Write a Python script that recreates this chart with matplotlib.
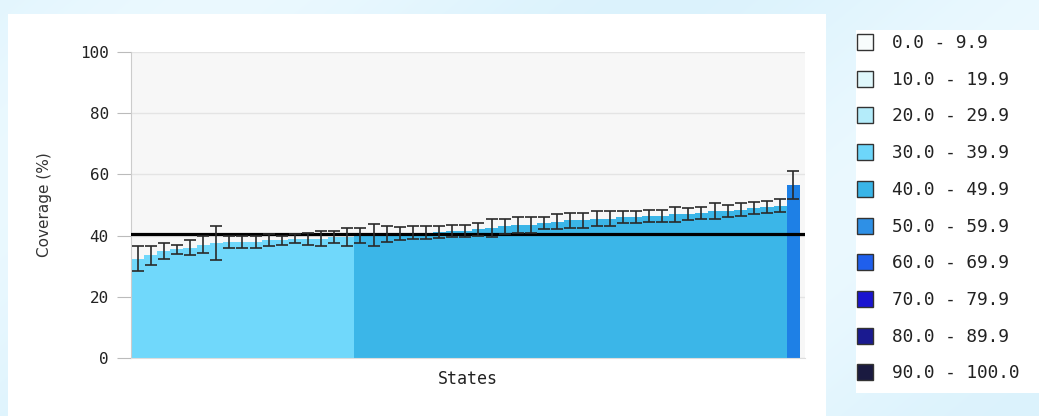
import numpy as np
import matplotlib
matplotlib.use('Agg')
import matplotlib.pyplot as plt
from matplotlib.patches import Rectangle

# coverage by state (%), sorted
coverage = [32.5, 33.5, 35, 35.5, 36, 37, 37.5, 38, 38, 38, 38.5, 38.5, 39, 39, 39, 39.5, 39.5,
            40, 40.2, 40.5, 40.7, 41, 41, 41.2, 41.5, 41.5, 42, 42.5, 43, 43.5, 43.5, 44, 44.5,
            45, 45, 45.5, 45.5, 46, 46, 46.5, 46.5, 47, 47, 47.5, 48, 48, 48.5, 49, 49.3, 49.8,
            56.5]
half_ci = [4, 3.2, 2.5, 1.5, 2.5, 2.8, 5.5, 2, 2, 2, 2, 1.5, 1.5, 2, 2.5, 2, 3,
           2.5, 3.5, 2.5, 2, 2, 2, 2, 2, 2, 2, 3, 2.5, 2.5, 2.5, 2, 2.5,
           2.5, 2.5, 2.5, 2.5, 2, 2, 2, 2, 2.5, 2, 2, 2.5, 2, 2, 2, 2, 2,
           4.5]
national = 40.5

legend_labels = ['0.0 - 9.9', '10.0 - 19.9', '20.0 - 29.9', '30.0 - 39.9', '40.0 - 49.9',
                 '50.0 - 59.9', '60.0 - 69.9', '70.0 - 79.9', '80.0 - 89.9', '90.0 - 100.0']
legend_colors = ['#f8fcfc', '#e0f8fc', '#b4ecfa', '#6dd6fa', '#39b5e8',
                 '#2e90e6', '#1f5fec', '#1a14d0', '#1a1a90', '#1a1a40']
fill_colors = ['#f8fcfc', '#e0f8fc', '#b4ecfa', '#70d8fb', '#3bb6e8',
               '#1e80e6', '#1f5fec', '#1a14d0', '#1a1a90', '#1a1a40']

def bin_color(v):
    return fill_colors[min(int(v // 10), 9)]

W, H = 1039, 416
fig = plt.figure(figsize=(W / 100, H / 100), dpi=100)

# light blue page background with soft diagonal bands
bg = fig.add_axes([0, 0, 1, 1], zorder=-10)
yy, xx = np.mgrid[0:H, 0:W]
band = 0.5 + 0.5 * np.sin((xx + yy * 1.2) / 140.0)
c1 = np.array([0.86, 0.95, 0.99])
c2 = np.array([0.92, 0.975, 1.0])
img = c1[None, None, :] * (1 - band[..., None]) + c2[None, None, :] * band[..., None]
bg.imshow(img, aspect='auto', extent=[0, W, H, 0])
bg.set_xlim(0, W)
bg.set_ylim(H, 0)
bg.axis('off')
bg.add_patch(Rectangle((8, 14), 818, 402, facecolor='white', edgecolor='none'))
bg.add_patch(Rectangle((856, 30), 183, 363, facecolor='white', edgecolor='none'))

mono = 'DejaVu Sans Mono'

# legend
for i, (lab, col) in enumerate(zip(legend_labels, legend_colors)):
    y = 42 + i * 36.7
    bg.add_patch(Rectangle((857, y - 8), 16, 16, facecolor=col, edgecolor='#333333', lw=1.0))
    bg.text(892, y + 1, lab, fontsize=12.8, family=mono, color='#222222', va='center', ha='left')

# main chart
ax = fig.add_axes([131 / W, 1 - 358 / H, (805 - 131) / W, (358 - 52) / H])
ax.set_facecolor('#f7f7f7')
x = np.arange(len(coverage))
cols = [bin_color(v) for v in coverage]
ax.bar(x, coverage, width=1.0, color=cols, edgecolor='none', zorder=2)
ax.errorbar(x, coverage, yerr=half_ci, fmt='none', ecolor='#2a2a2a', elinewidth=1.2,
            capsize=4.5, capthick=1.2, zorder=4)
ax.axhline(national, color='black', lw=2.3, zorder=3)

ax.set_xlim(-0.5, len(coverage) - 0.1)
ax.set_ylim(0, 100)
ax.set_yticks([0, 20, 40, 60, 80, 100])
ax.set_xticks([])
ax.grid(axis='y', color='#e4e4e4', lw=1, zorder=0)
for s in ['top', 'right']:
    ax.spines[s].set_visible(False)
ax.spines['left'].set_color('#cccccc')
ax.spines['bottom'].set_color('#dddddd')
ax.tick_params(axis='y', colors='#bbbbbb', length=10, pad=6, labelcolor='#222222', labelsize=11.5)
for t in ax.get_yticklabels():
    t.set_family(mono)
ax.set_ylabel('Coverage (%)', fontsize=11, color='#333333', labelpad=20)
ax.set_xlabel('States', fontsize=12, color='#222222', family=mono, labelpad=9)

fig.savefig('out.png', dpi=100)
